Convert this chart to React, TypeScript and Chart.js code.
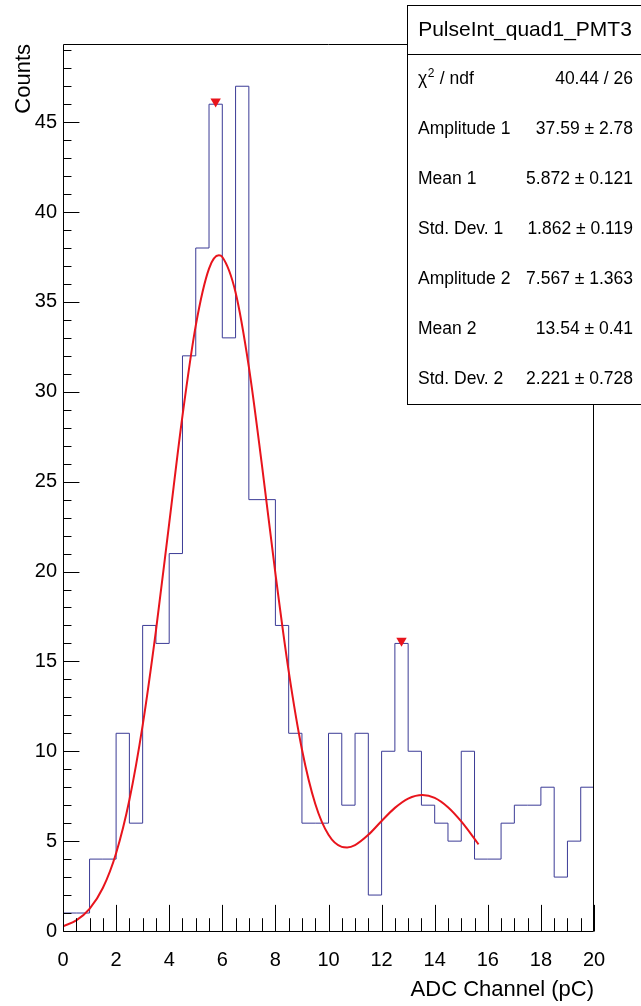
import React, { useEffect, useRef } from "react";
import { Chart, registerables } from "chart.js";

Chart.register(...registerables);

// ---- Data -------------------------------------------------------------
const binLowEdges = [
  0, 0.5, 1, 1.5, 2, 2.5, 3, 3.5, 4, 4.5, 5, 5.5, 6, 6.5, 7, 7.5, 8, 8.5, 9, 9.5,
  10, 10.5, 11, 11.5, 12, 12.5, 13, 13.5, 14, 14.5, 15, 15.5, 16, 16.5, 17, 17.5, 18, 18.5, 19, 19.5,
];
const histUpperEdge = 20;
const binCounts = [
  1, 1, 4, 4, 11, 6, 17, 16, 21, 32, 38, 46, 33, 47, 24, 24, 17, 11, 6, 6,
  11, 7, 11, 2, 10, 16, 10, 7, 6, 5, 10, 4, 4, 6, 7, 7, 8, 3, 5, 8,
];

const fitX = [
  0, 0.5, 1, 1.5, 2, 2.5, 3, 3.5, 4, 4.5, 5, 5.5, 5.87, 6, 6.5, 7, 7.5, 8, 8.5, 9, 9.5,
  10, 10.5, 10.7, 11, 11.5, 12, 12.5, 13, 13.54, 14, 14.5, 15, 15.5, 15.65,
];
const fitY = [
  0.26, 0.59, 1.23, 2.39, 4.33, 7.29, 11.44, 16.7, 22.68, 28.66, 33.68, 36.85, 37.59, 37.5, 35.53, 31.39, 25.84, 19.9, 14.46, 10.1, 7.08,
  5.35, 4.68, 4.65, 4.78, 5.35, 6.12, 6.85, 7.37, 7.57, 7.41, 6.89, 6.1, 5.13, 4.82,
];

const peakX = [5.75, 12.75];
const peakY = [46.15, 16.15];

const xTickLabels = ["0", "2", "4", "6", "8", "10", "12", "14", "16", "18", "20"];
const yTickLabels = ["0", "5", "10", "15", "20", "25", "30", "35", "40", "45"];
const xMajorStep = 2;
const xMinorStep = 0.5;
const yMajorStep = 5;
const yMinorStep = 1;
const xMin = 0;
const xMax = 20;
const yMin = 0;
const yMax = 49.35;

const statsTitle = "PulseInt_quad1_PMT3";
const statLabels = ["χ2 / ndf", "Amplitude 1", "Mean 1", "Std. Dev. 1", "Amplitude 2", "Mean 2", "Std. Dev. 2"];
const statValues = ["40.44 / 26", "37.59 ± 2.78", "5.872 ± 0.121", "1.862 ± 0.119", "7.567 ± 1.363", "13.54 ± 0.41", "2.221 ± 0.728"];

const xTitle = "ADC Channel (pC)";
const yTitle = "Counts";

// ---- Styles -----------------------------------------------------------
const FONT = "'Liberation Sans', Arial, Helvetica, sans-serif";
const HIST_COLOR = "#3b3b96";
const FIT_COLOR = "#e8141c";
const W = 641;
const H = 1006;

const framePlugin = {
  id: "rootFrame",
  afterDatasetsDraw(chart: any) {
    const { ctx, chartArea } = chart;
    const xs = chart.scales.x;
    const ys = chart.scales.y;
    const L = Math.round(chartArea.left) + 0.5;
    const R = Math.round(chartArea.right) - 0.5;
    const T = Math.round(chartArea.top) + 0.5;
    const B = Math.round(chartArea.bottom) + 0.5;
    ctx.save();
    ctx.strokeStyle = "#000";
    ctx.lineWidth = 1;
    ctx.beginPath();
    ctx.moveTo(L, T);
    ctx.lineTo(R, T);
    ctx.lineTo(R, B);
    ctx.lineTo(L, B);
    ctx.closePath();
    ctx.stroke();
    // inward ticks
    const plotH = chartArea.bottom - chartArea.top;
    const plotW = chartArea.right - chartArea.left;
    const xMajLen = 0.03 * plotH;
    const yMajLen = 0.03 * plotW;
    ctx.beginPath();
    const nx = Math.round((xMax - xMin) / xMinorStep);
    for (let i = 0; i <= nx; i++) {
      const v = xMin + i * xMinorStep;
      const px = Math.round(xs.getPixelForValue(v)) + 0.5;
      const isMajor = Math.abs(v / xMajorStep - Math.round(v / xMajorStep)) < 1e-6;
      const len = isMajor ? xMajLen : xMajLen / 2;
      ctx.moveTo(px, B);
      ctx.lineTo(px, B - len);
    }
    const ny = Math.floor((yMax - yMin) / yMinorStep);
    for (let i = 0; i <= ny; i++) {
      const v = yMin + i * yMinorStep;
      const py = Math.round(ys.getPixelForValue(v)) + 0.5;
      const isMajor = Math.abs(v / yMajorStep - Math.round(v / yMajorStep)) < 1e-6;
      const len = isMajor ? yMajLen : yMajLen / 2;
      ctx.moveTo(L, py);
      ctx.lineTo(L + len, py);
    }
    ctx.stroke();
    ctx.restore();
  },
  afterDraw(chart: any) {
    const { ctx } = chart;
    const bx = 407.5;
    const by = 5.5;
    const bw = 250;
    const bh = 399;
    const sep = 54.5;
    ctx.save();
    ctx.fillStyle = "#fff";
    ctx.fillRect(bx, by, bw, bh);
    ctx.strokeStyle = "#000";
    ctx.lineWidth = 1;
    ctx.strokeRect(bx, by, bw, bh);
    ctx.beginPath();
    ctx.moveTo(bx, sep);
    ctx.lineTo(W, sep);
    ctx.stroke();
    ctx.fillStyle = "#000";
    ctx.textBaseline = "middle";
    ctx.textAlign = "center";
    ctx.font = `21px ${FONT}`;
    ctx.fillText(statsTitle, 525, 30);
    const rowH = (by + bh - sep) / statLabels.length;
    const lx = 418;
    const rx = 633;
    for (let i = 0; i < statLabels.length; i++) {
      const cy = sep + rowH * (i + 0.5);
      ctx.font = `17.5px ${FONT}`;
      ctx.textAlign = "left";
      const lab = statLabels[i];
      if (lab.startsWith("χ2")) {
        ctx.fillText("χ", lx, cy);
        const w1 = ctx.measureText("χ").width;
        ctx.font = `12px ${FONT}`;
        ctx.fillText("2", lx + w1 + 0.5, cy - 6);
        const w2 = ctx.measureText("2").width;
        ctx.font = `17.5px ${FONT}`;
        ctx.fillText(lab.slice(2), lx + w1 + w2 + 1, cy);
      } else {
        ctx.fillText(lab, lx, cy);
      }
      ctx.textAlign = "right";
      ctx.fillText(statValues[i], rx, cy);
    }
    ctx.restore();
  },
};

export default function App() {
  const canvasRef = useRef<HTMLCanvasElement | null>(null);

  useEffect(() => {
    const canvas = canvasRef.current;
    if (!canvas) return;

    const histPoints = binLowEdges.map((x, i) => ({ x, y: binCounts[i] }));
    histPoints.push({ x: histUpperEdge, y: binCounts[binCounts.length - 1] });
    const fitPoints = fitX.map((x, i) => ({ x, y: fitY[i] }));
    const peakPoints = peakX.map((x, i) => ({ x, y: peakY[i] }));

    const chart = new Chart(canvas, {
      type: "line",
      data: {
        datasets: [
          {
            data: peakPoints,
            showLine: false,
            pointStyle: "triangle",
            rotation: 180,
            pointRadius: 6,
            pointBackgroundColor: FIT_COLOR,
            pointBorderColor: FIT_COLOR,
            pointBorderWidth: 0,
            order: 0,
          },
          {
            data: fitPoints,
            borderColor: FIT_COLOR,
            borderWidth: 2,
            pointRadius: 0,
            fill: false,
            cubicInterpolationMode: "monotone",
            order: 1,
          },
          {
            data: histPoints,
            borderColor: HIST_COLOR,
            borderWidth: 1,
            pointRadius: 0,
            fill: false,
            stepped: "before",
            order: 2,
          },
        ],
      } as any,
      options: {
        responsive: false,
        animation: false,
        events: [],
        layout: { padding: { top: 44, right: 47, left: 0, bottom: 0 } },
        plugins: { legend: { display: false }, tooltip: { enabled: false } },
        scales: {
          x: {
            type: "linear",
            min: xMin,
            max: xMax,
            grid: { display: false, drawTicks: false },
            border: { display: false },
            ticks: {
              stepSize: xMajorStep,
              includeBounds: false,
              maxRotation: 0,
              autoSkip: false,
              padding: 17,
              color: "#000",
              font: { family: FONT, size: 20 },
              callback: (v: any) => {
                const idx = Math.round((Number(v) - xMin) / xMajorStep);
                return xTickLabels[idx] ?? "";
              },
            },
            title: {
              display: true,
              text: xTitle,
              align: "end",
              color: "#000",
              font: { family: FONT, size: 22 },
              padding: { top: 0, bottom: 3 },
            },
            afterFit: (s: any) => {
              s.height = H - 931;
            },
          },
          y: {
            type: "linear",
            min: yMin,
            max: yMax,
            grid: { display: false, drawTicks: false },
            border: { display: false },
            ticks: {
              stepSize: yMajorStep,
              includeBounds: false,
              autoSkip: false,
              padding: 6,
              color: "#000",
              font: { family: FONT, size: 20 },
              callback: (v: any) => {
                const idx = Math.round((Number(v) - yMin) / yMajorStep);
                return yTickLabels[idx] ?? "";
              },
            },
            title: {
              display: true,
              text: yTitle,
              align: "end",
              color: "#000",
              font: { family: FONT, size: 22 },
              padding: { top: 11, bottom: 0 },
            },
            afterFit: (s: any) => {
              s.width = 63;
            },
          },
        },
      } as any,
      plugins: [framePlugin],
    });

    return () => chart.destroy();
  }, []);

  return (
    <div style={{ position: "fixed", left: 0, top: 0, width: W, height: H, background: "#fff" }}>
      <canvas ref={canvasRef} width={W} height={H} style={{ display: "block" }} />
    </div>
  );
}
